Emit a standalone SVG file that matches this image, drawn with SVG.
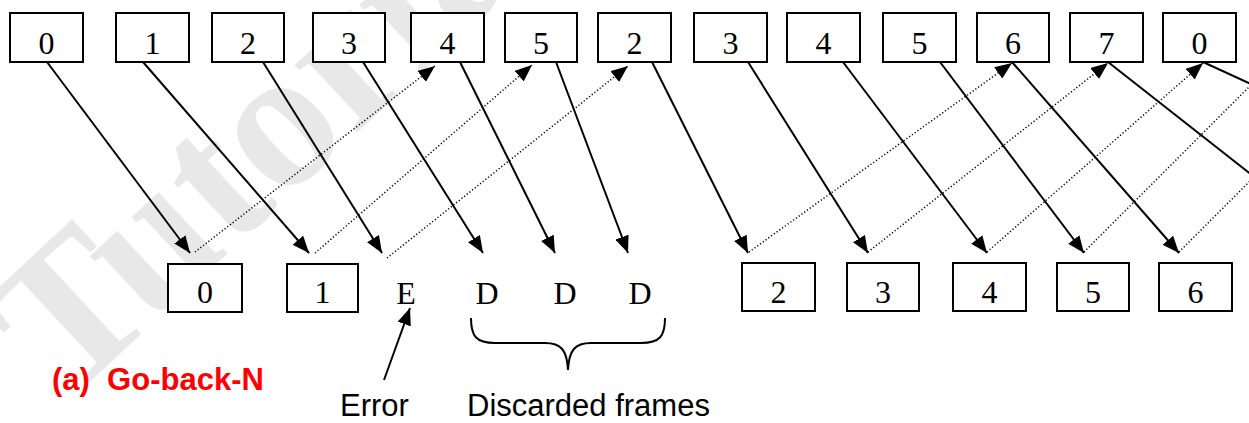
<svg xmlns="http://www.w3.org/2000/svg" width="1249" height="423" viewBox="0 0 1249 423">
<style>
.box{fill:#fff;stroke:#000;stroke-width:2}
.num{font-family:"Liberation Serif","Times New Roman",serif;font-size:32px;fill:#000;text-anchor:middle}
.solid{stroke:#000;stroke-width:2;fill:none}
.dot{stroke:#000;stroke-width:1.5;stroke-dasharray:1.2,2.2;fill:none}
.lbl{font-family:"Liberation Sans",Arial,sans-serif;font-size:31px;fill:#000}
.wm{font-family:"Liberation Serif","Times New Roman",serif;font-weight:bold;font-size:200px;fill:#e8e8e8}
</style>
<defs>
<marker id="ah" markerUnits="userSpaceOnUse" markerWidth="18" markerHeight="14" refX="17" refY="7" orient="auto">
<path d="M0,0 L17,7 L0,14 z" fill="#000"/>
</marker>
</defs>
<text class="wm" transform="translate(66,404) rotate(-43)">Tutorials</text>
<g id="sender">
<g id="s0"><rect class="box" x="10" y="13" width="73" height="49"/><text class="num" x="46.5" y="54">0</text></g>
<g id="s1"><rect class="box" x="116" y="13" width="73" height="49"/><text class="num" x="152.5" y="54">1</text></g>
<g id="s2"><rect class="box" x="212" y="13" width="72" height="49"/><text class="num" x="248" y="54">2</text></g>
<g id="s3"><rect class="box" x="313" y="13" width="72" height="49"/><text class="num" x="349" y="54">3</text></g>
<g id="s4"><rect class="box" x="411" y="13" width="73" height="49"/><text class="num" x="447.5" y="54">4</text></g>
<g id="s5"><rect class="box" x="505" y="13" width="72" height="49"/><text class="num" x="541" y="54">5</text></g>
<g id="s6"><rect class="box" x="598" y="13" width="73" height="49"/><text class="num" x="634.5" y="54">2</text></g>
<g id="s7"><rect class="box" x="694" y="13" width="73" height="49"/><text class="num" x="730.5" y="54">3</text></g>
<g id="s8"><rect class="box" x="787" y="13" width="73" height="49"/><text class="num" x="823.5" y="54">4</text></g>
<g id="s9"><rect class="box" x="883" y="13" width="73" height="49"/><text class="num" x="919.5" y="54">5</text></g>
<g id="s10"><rect class="box" x="977" y="13" width="72" height="49"/><text class="num" x="1013" y="54">6</text></g>
<g id="s11"><rect class="box" x="1070" y="13" width="73" height="49"/><text class="num" x="1106.5" y="54">7</text></g>
<g id="s12"><rect class="box" x="1163" y="13" width="73" height="49"/><text class="num" x="1199.5" y="54">0</text></g>
</g>
<g id="receiver">
<g id="r0"><rect class="box" x="168" y="264" width="74" height="48"/><text class="num" x="205" y="303">0</text></g>
<g id="r1"><rect class="box" x="287" y="264" width="71" height="48"/><text class="num" x="322.5" y="303">1</text></g>
<g id="rE"><text class="num" x="406" y="304">E</text></g>
<g id="rD1"><text class="num" x="487" y="304">D</text></g>
<g id="rD2"><text class="num" x="565" y="304">D</text></g>
<g id="rD3"><text class="num" x="640" y="304">D</text></g>
<g id="r2"><rect class="box" x="742" y="263" width="73" height="48"/><text class="num" x="778.5" y="303">2</text></g>
<g id="r3"><rect class="box" x="847" y="263" width="72" height="48"/><text class="num" x="883" y="303">3</text></g>
<g id="r4"><rect class="box" x="953" y="263" width="73" height="48"/><text class="num" x="989.5" y="303">4</text></g>
<g id="r5"><rect class="box" x="1057" y="263" width="72" height="48"/><text class="num" x="1093" y="303">5</text></g>
<g id="r6"><rect class="box" x="1159" y="263" width="73" height="48"/><text class="num" x="1195.5" y="303">6</text></g>
</g>
<g id="connectors">
<line class="solid" x1="47" y1="62" x2="190" y2="253" marker-end="url(#ah)"/>
<line class="solid" x1="143" y1="62" x2="309" y2="253" marker-end="url(#ah)"/>
<line class="solid" x1="263" y1="62" x2="382" y2="253" marker-end="url(#ah)"/>
<line class="solid" x1="363" y1="62" x2="483" y2="253" marker-end="url(#ah)"/>
<line class="solid" x1="460" y1="62" x2="555" y2="253" marker-end="url(#ah)"/>
<line class="solid" x1="556" y1="62" x2="628" y2="253" marker-end="url(#ah)"/>
<line class="solid" x1="652" y1="62" x2="748" y2="253" marker-end="url(#ah)"/>
<line class="solid" x1="748" y1="62" x2="868" y2="253" marker-end="url(#ah)"/>
<line class="solid" x1="843" y1="62" x2="987" y2="253" marker-end="url(#ah)"/>
<line class="solid" x1="940" y1="62" x2="1084" y2="253" marker-end="url(#ah)"/>
<line class="solid" x1="1012" y1="62" x2="1179" y2="253" marker-end="url(#ah)"/>
<line class="solid" x1="1108" y1="62" x2="1262" y2="183"/>
<line class="solid" x1="1203" y1="62" x2="1262" y2="89"/>
<line class="dot" x1="195" y1="252" x2="435" y2="66" marker-end="url(#ah)"/>
<line class="dot" x1="315" y1="253" x2="532" y2="65" marker-end="url(#ah)"/>
<line class="dot" x1="387" y1="258" x2="628" y2="66" marker-end="url(#ah)"/>
<line class="dot" x1="749" y1="252" x2="1012" y2="63" marker-end="url(#ah)"/>
<line class="dot" x1="868" y1="252" x2="1108" y2="63" marker-end="url(#ah)"/>
<line class="dot" x1="987" y1="252" x2="1203" y2="63" marker-end="url(#ah)"/>
<line class="dot" x1="1084" y1="252" x2="1262" y2="74"/>
<line class="dot" x1="1179" y1="252" x2="1262" y2="169"/>
<line class="solid" x1="384" y1="380" x2="410" y2="308" marker-end="url(#ah)"/>
<path class="solid" d="M471,318 C471,336 476,343 495,343 L545,343 C561,343 567,350 568,370 C569,350 575,343 591,343 L641,343 C660,343 665,336 665,318"/>
</g>
<g id="labels">
<text x="52" y="390" style="font-family:'Liberation Sans',Arial,sans-serif;font-weight:bold;font-size:31px;fill:#ff0000;white-space:pre" xml:space="preserve">(a)  Go-back-N</text>
<text class="lbl" x="340" y="416">Error</text>
<text class="lbl" x="467" y="416">Discarded frames</text>
</g>
</svg>
